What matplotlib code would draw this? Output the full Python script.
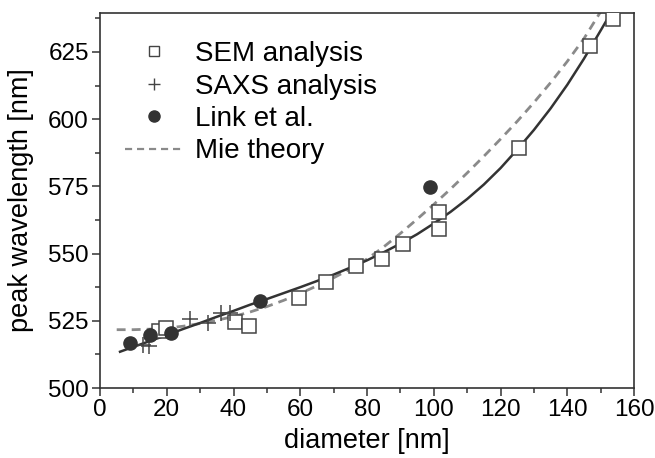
import matplotlib
matplotlib.use("Agg")
import matplotlib.pyplot as plt
from matplotlib.lines import Line2D
from matplotlib.ticker import MultipleLocator

plt.rcParams['font.family'] = ['Liberation Sans', 'DejaVu Sans']

# SEM analysis (open squares)
sem_x = [17.8, 19.8, 40.5, 44.5, 59.7, 67.7, 76.6, 84.4, 90.7, 101.6, 101.6, 125.6, 146.7, 153.6]
sem_y = [521.3, 522.3, 524.4, 522.9, 533.5, 539.5, 545.5, 548.0, 553.5, 559.0, 565.3, 589.3, 627.3, 637.3]

# SAXS analysis (plus)
saxs_x = [12.9, 14.8, 26.9, 32.5, 36.3, 38.8]
saxs_y = [515.9, 515.5, 525.6, 524.3, 528.0, 527.8]

# Link et al. (filled circles)
link_x = [9.0, 14.9, 21.4, 48.0, 98.8]
link_y = [516.7, 519.6, 520.4, 532.5, 574.6]

# Fit curve (solid)
fit_x = [6, 10, 15, 20, 25, 30, 35, 40, 45, 50, 55, 60, 65, 70, 75, 80, 85, 90,
         95, 100, 105, 110, 115, 120, 125, 130, 135, 140, 145, 150, 154]
fit_y = [513.5, 515.3, 517.5, 519.7, 522.0, 524.2, 526.5, 528.7, 531.0, 533.1,
         535.3, 537.5, 539.8, 542.2, 544.8, 547.5, 550.5, 553.7, 557.2, 561.2,
         565.5, 570.3, 575.7, 581.8, 588.7, 596.0, 604.0, 612.8, 622.5, 633.0, 641.5]

# Mie theory (dashed)
mie_x = [5, 10, 15, 20, 25, 30, 35, 40, 45, 50, 55, 60, 65, 70, 75, 80, 85, 90,
         95, 100, 105, 110, 115, 120, 125, 130, 135, 140, 145, 150]
mie_y = [521.7, 521.7, 521.9, 522.3, 523.0, 524.0, 525.2, 526.6, 528.3, 530.3,
         532.6, 535.2, 538.0, 541.0, 544.3, 548.0, 552.5, 557.5, 562.8, 568.3,
         574.0, 580.0, 586.2, 592.6, 599.2, 606.2, 613.6, 621.5, 630.0, 640.0]

labels = ["SEM analysis", "SAXS analysis", "Link et al.", "Mie theory"]

fig = plt.figure(figsize=(6.55, 4.58), dpi=100)
ax = fig.add_axes([0.1527, 0.1528, 0.8153, 0.8188])

dark = '#333333'
ax.plot(mie_x, mie_y, color='#8a8a8a', lw=2.0, dashes=(3.2, 2.2), zorder=2)
ax.plot(fit_x, fit_y, color=dark, lw=1.8, zorder=3)
ax.plot(sem_x, sem_y, ls='none', marker='s', ms=10, mfc='white', mec='#444444', mew=1.1, zorder=4)
ax.plot(saxs_x, saxs_y, ls='none', marker='+', ms=12, mec='#444444', mew=1.1, zorder=5)
ax.plot(link_x, link_y, ls='none', marker='o', ms=9.5, mfc=dark, mec=dark, zorder=6)

ax.set_xlim(0, 160)
ax.set_ylim(500, 639.5)
ax.xaxis.set_major_locator(MultipleLocator(20))
ax.xaxis.set_minor_locator(MultipleLocator(10))
ax.yaxis.set_major_locator(MultipleLocator(25))
ax.yaxis.set_minor_locator(MultipleLocator(12.5))
ax.tick_params(which='both', direction='out', top=False, right=False, color=dark, width=1.1)
ax.tick_params(which='major', length=6, labelsize=17.5, pad=2)
ax.tick_params(which='minor', length=3.5)
for s in ax.spines.values():
    s.set_color(dark)
    s.set_linewidth(1.2)

ax.set_xlabel("diameter [nm]", fontsize=19.5, labelpad=5)
ax.set_ylabel("peak wavelength [nm]", fontsize=19.5, labelpad=10)

handles = [
    Line2D([], [], ls='none', marker='s', ms=7, mfc='white', mec='#444444', mew=1.0),
    Line2D([], [], ls='none', marker='+', ms=9, mec='#444444', mew=1.0),
    Line2D([], [], ls='none', marker='o', ms=8, mfc=dark, mec=dark),
    Line2D([], [], color='#8a8a8a', lw=1.6, dashes=(3.2, 2.2)),
]
ax.legend(handles, labels, loc='upper left', bbox_to_anchor=(0.047, 0.925), frameon=False,
          fontsize=20, handlelength=2.1, labelspacing=0.23, handletextpad=0.43,
          borderpad=0, borderaxespad=0)

fig.savefig("out.png", dpi=100)
